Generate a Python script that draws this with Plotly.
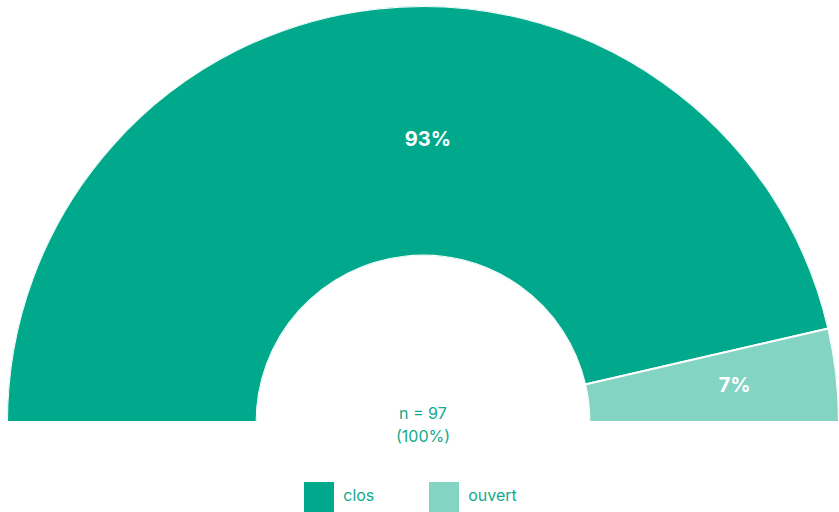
import plotly.graph_objects as go

# ---- data ----
categories = ["clos", "ouvert"]
counts = [90, 7]
colors = ["#00A98B", "#84D4C4"]
TEXT_GREEN = "#12AA8C"
FONT = "Inter, Liberation Sans, Arial, sans-serif"
LABEL_R = [0.46, 0.59]  # radial placement of the percentage labels (style)

total = sum(counts)
pcts = [round(c / total * 100) for c in counts]

# angular layout: half circle 0..180 deg, counterclockwise from the right
# order on the dial: ouvert starts at 0 (right), clos fills the rest up to 180
order = [1, 0]
widths = {}
centers = {}
start = 0.0
for i in order:
    w = counts[i] / total * 180.0
    widths[i] = w
    centers[i] = start + w / 2
    start += w

fig = go.Figure()

for i in range(len(categories)):
    fig.add_trace(go.Barpolar(
        r=[1], base=[0], theta=[centers[i]], width=[widths[i]],
        marker=dict(color=colors[i], line=dict(color="white", width=2)),
        name=categories[i], showlegend=False, hoverinfo="skip",
    ))

# percentage labels: slice mid-angle (kept no further left than the top)
label_theta = [min(centers[i], 89) for i in range(len(categories))]
fig.add_trace(go.Scatterpolar(
    r=LABEL_R, theta=label_theta,
    mode="text", text=[f"{p}%" for p in pcts],
    textfont=dict(color="white", size=20, family=FONT, weight="bold"),
    showlegend=False, hoverinfo="skip",
))

# custom legend with large square swatches
fig.add_trace(go.Scatter(
    x=list(range(len(categories))), y=[0] * len(categories),
    mode="markers+text", text=["\u00a0" + c for c in categories],
    textposition="middle right", cliponaxis=False,
    marker=dict(symbol="square", size=30, color=colors),
    textfont=dict(color=TEXT_GREEN, size=16, family=FONT),
    showlegend=False, hoverinfo="skip", xaxis="x", yaxis="y",
))

polar_bottom = 90 / 506

fig.update_layout(
    width=839, height=512,
    margin=dict(l=7, r=0, t=6, b=0),
    paper_bgcolor="white", plot_bgcolor="white",
    showlegend=False,
    polar=dict(
        domain=dict(x=[0, 1], y=[polar_bottom, 1]),
        sector=[0, 180], hole=0.4, bgcolor="white",
        radialaxis=dict(visible=False, range=[0, 1]),
        angularaxis=dict(visible=False, rotation=0, direction="counterclockwise"),
    ),
    xaxis=dict(visible=False, range=[-2.496, 4.16], domain=[0, 1], fixedrange=True),
    yaxis=dict(visible=False, range=[-1, 1], domain=[0, 30 / 506], fixedrange=True),
    annotations=[
        dict(text=f"n = {total}", xref="paper", yref="paper",
             x=0.5, y=polar_bottom, xanchor="center", yanchor="middle", yshift=9,
             showarrow=False, font=dict(color=TEXT_GREEN, size=16, family=FONT)),
        dict(text="(100%)", xref="paper", yref="paper",
             x=0.5, y=polar_bottom, xanchor="center", yanchor="middle", yshift=-14,
             showarrow=False, font=dict(color=TEXT_GREEN, size=16, family=FONT)),
    ],
)

fig.write_html("out.html", config={"displayModeBar": False},
               post_script="document.body.style.margin='0';")
